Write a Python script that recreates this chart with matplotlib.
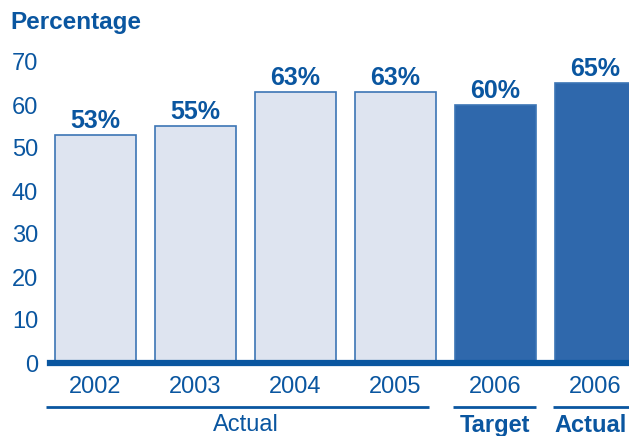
import matplotlib.pyplot as plt

plt.rcParams['font.family'] = ['Liberation Sans', 'DejaVu Sans']

years = ['2002', '2003', '2004', '2005', '2006', '2006']
values = [53, 55, 63, 63, 60, 65]
groups = ['Actual', 'Target', 'Actual']
group_spans = [(0, 3), (4, 4), (5, 5)]
group_bold = [False, True, True]

blue = '#0A56A0'
light = '#DEE4F0'
dark = '#2F68AC'
edge = '#3C75B5'

fig = plt.figure(figsize=(6.29, 4.36), dpi=100)
W, H = 629, 436
# axes placed in pixel terms
ax = fig.add_axes([50 / W, 73 / H, (W - 50) / W, 301 / H])

x = list(range(len(years)))
colors = [light] * 4 + [dark] * 2
ax.bar(x, values, width=0.81, color=colors, edgecolor=edge, linewidth=1.2, zorder=2)

for i, v in zip(x, values):
    ax.annotate(f'{v}%', (i, v), xytext=(0, 1.5), textcoords='offset points',
                ha='center', va='bottom', fontsize=18, fontweight='bold',
                color=blue, clip_on=False)

ax.set_xlim(-0.455, 5.335)
ax.set_ylim(0, 70)
ax.set_yticks(range(0, 71, 10))
ax.tick_params(axis='y', length=0, labelsize=17, labelcolor=blue, pad=8.5)
ax.set_xticks(x)
ax.set_xticklabels(years)
ax.tick_params(axis='x', length=0, labelsize=17, labelcolor=blue, pad=9)
for s in ['top', 'right', 'left']:
    ax.spines[s].set_visible(False)
ax.spines['bottom'].set_color(blue)
ax.spines['bottom'].set_linewidth(4.5)
ax.spines['bottom'].set_zorder(3)

# group underlines and labels
trans = ax.get_xaxis_transform()
for g, (a, b), bold in zip(groups, group_spans, group_bold):
    if a == 0:
        x0, x1 = -0.5, 3.33
    else:
        x0, x1 = a - 0.43, b + 0.4
    ax.plot([x0, x1], [-0.145, -0.145], transform=trans, color=blue,
            lw=2, clip_on=False, solid_capstyle='butt')
    xc = (a + b) / 2 - (0.05 if a == 5 else 0.0)
    ax.text(xc, -0.207, g, transform=trans, ha='center', va='center',
            fontsize=17, color=blue, fontweight='bold' if bold else 'normal')

fig.text(10 / W, 1 - 22 / H, 'Percentage', fontsize=17.5, fontweight='bold',
         color=blue, ha='left', va='center')

fig.savefig('out.png', dpi=100)
